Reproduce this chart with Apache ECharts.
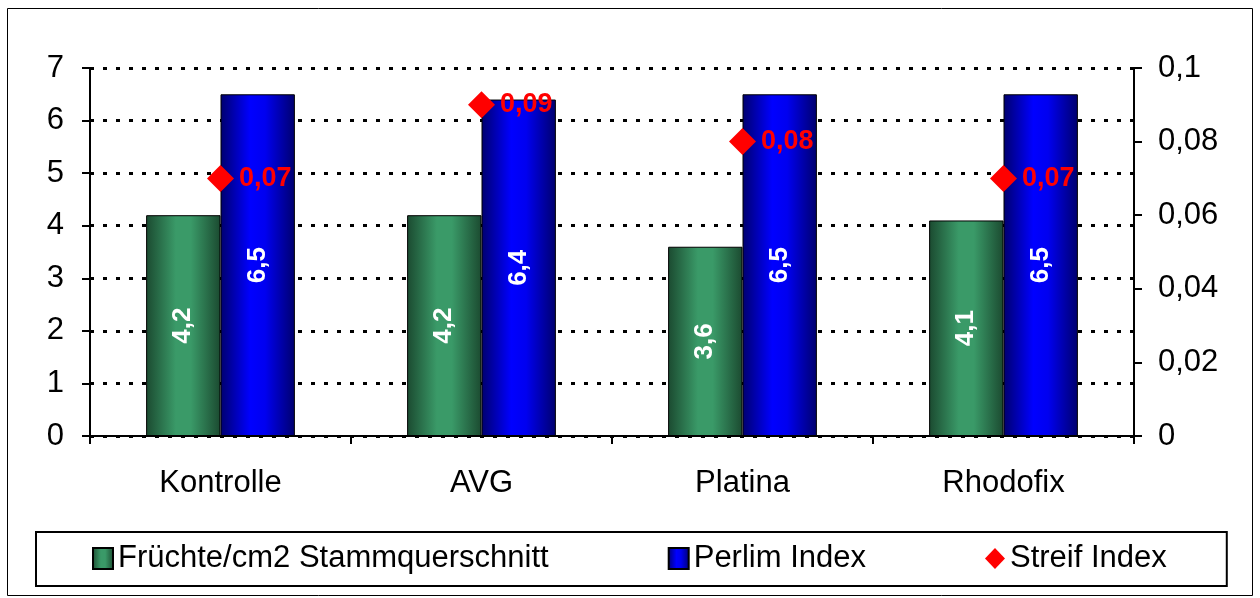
<!DOCTYPE html>
<html>
<head>
<meta charset="utf-8">
<script src="https://cdn.jsdelivr.net/npm/echarts@6/dist/echarts.min.js"></script>
<style>
html, body { margin: 0; padding: 0; background: #fff; }
#chart { width: 1260px; height: 598px; }
</style>
</head>
<body>
<div id="chart"></div>
<script>
var categories = ['Kontrolle', 'AVG', 'Platina', 'Rhodofix'];
var fruchte = [4.2, 4.2, 3.6, 4.1];
var perlim = [6.5, 6.4, 6.5, 6.5];
var streif = [0.07, 0.09, 0.08, 0.07];

var myChart = echarts.init(document.getElementById('chart'));

var FONT = 'Liberation Sans, Arial, sans-serif';

function comma(v) {
    return String(v).replace('.', ',');
}

var greenFill = new echarts.graphic.LinearGradient(0, 0, 1, 0, [
    {offset: 0, color: '#1b4a30'},
    {offset: 0.4, color: '#3a9a68'},
    {offset: 0.6, color: '#3a9a68'},
    {offset: 1, color: '#1b4a30'}
]);
var blueFill = new echarts.graphic.LinearGradient(0, 0, 1, 0, [
    {offset: 0, color: '#00006e'},
    {offset: 0.4, color: '#0000ff'},
    {offset: 0.6, color: '#0000f0'},
    {offset: 1, color: '#00006e'}
]);

var barLabel = {
    show: true,
    position: 'inside',
    rotate: 90,
    color: '#fff',
    fontFamily: FONT,
    fontWeight: 'bold',
    fontSize: 26,
    formatter: function (p) { return comma(p.value); }
};

var option = {
    animation: false,
    textStyle: {fontFamily: FONT},
    graphic: [{
        type: 'rect',
        shape: {x: 7.5, y: 8.5, width: 1245, height: 587},
        style: {fill: 'none', stroke: '#000', lineWidth: 1}
    }],
    grid: {left: 90, right: 126, top: 68, bottom: 162},
    legend: {
        left: 36,
        top: 532,
        padding: [11, 60, 12, 56],
        itemGap: 119,
        itemWidth: 20,
        itemHeight: 21,
        borderColor: '#000',
        borderWidth: 2,
        textStyle: {fontSize: 31, color: '#000', fontFamily: FONT},
        data: [
            {name: 'Früchte/cm2 Stammquerschnitt', icon: 'rect'},
            {name: 'Perlim Index', icon: 'rect'},
            {name: 'Streif Index', icon: 'diamond'}
        ]
    },
    xAxis: {
        type: 'category',
        data: categories,
        axisLine: {lineStyle: {color: '#000', width: 2}},
        axisTick: {show: true, length: 8, lineStyle: {color: '#000', width: 2}},
        axisLabel: {fontSize: 31, color: '#000', margin: 32}
    },
    yAxis: [{
        type: 'value',
        min: 0,
        max: 7,
        interval: 1,
        axisLine: {show: true, lineStyle: {color: '#000', width: 2}},
        axisTick: {show: true, length: 8, lineStyle: {color: '#000', width: 2}},
        axisLabel: {fontSize: 31, color: '#000', margin: 26},
        splitLine: {lineStyle: {color: '#000', width: 3, type: [4, 9]}}
    }, {
        type: 'value',
        min: 0,
        max: 0.1,
        interval: 0.02,
        position: 'right',
        axisLine: {show: true, lineStyle: {color: '#000', width: 2}},
        axisTick: {show: true, length: 8, lineStyle: {color: '#000', width: 2}},
        axisLabel: {fontSize: 31, color: '#000', margin: 24, formatter: comma},
        splitLine: {show: false}
    }],
    series: [{
        name: 'Früchte/cm2 Stammquerschnitt',
        type: 'bar',
        data: fruchte,
        barWidth: '28.5%',
        barGap: 0,
        itemStyle: {color: greenFill, borderColor: '#000', borderWidth: 1},
        label: barLabel
    }, {
        name: 'Perlim Index',
        type: 'bar',
        data: perlim,
        barWidth: '28.5%',
        barGap: 0,
        itemStyle: {color: blueFill, borderColor: '#000', borderWidth: 1},
        label: barLabel
    }, {
        name: 'Streif Index',
        type: 'line',
        yAxisIndex: 1,
        data: streif,
        symbol: 'diamond',
        symbolSize: 27,
        lineStyle: {width: 0, opacity: 0},
        itemStyle: {color: '#ff0000'},
        z: 5,
        label: {
            show: true,
            position: 'right',
            distance: 5,
            color: '#ff0000',
            fontFamily: FONT,
            fontWeight: 'bold',
            fontSize: 27,
            formatter: function (p) { return comma(p.value); }
        }
    }]
};

myChart.setOption(option);
</script>
</body>
</html>
